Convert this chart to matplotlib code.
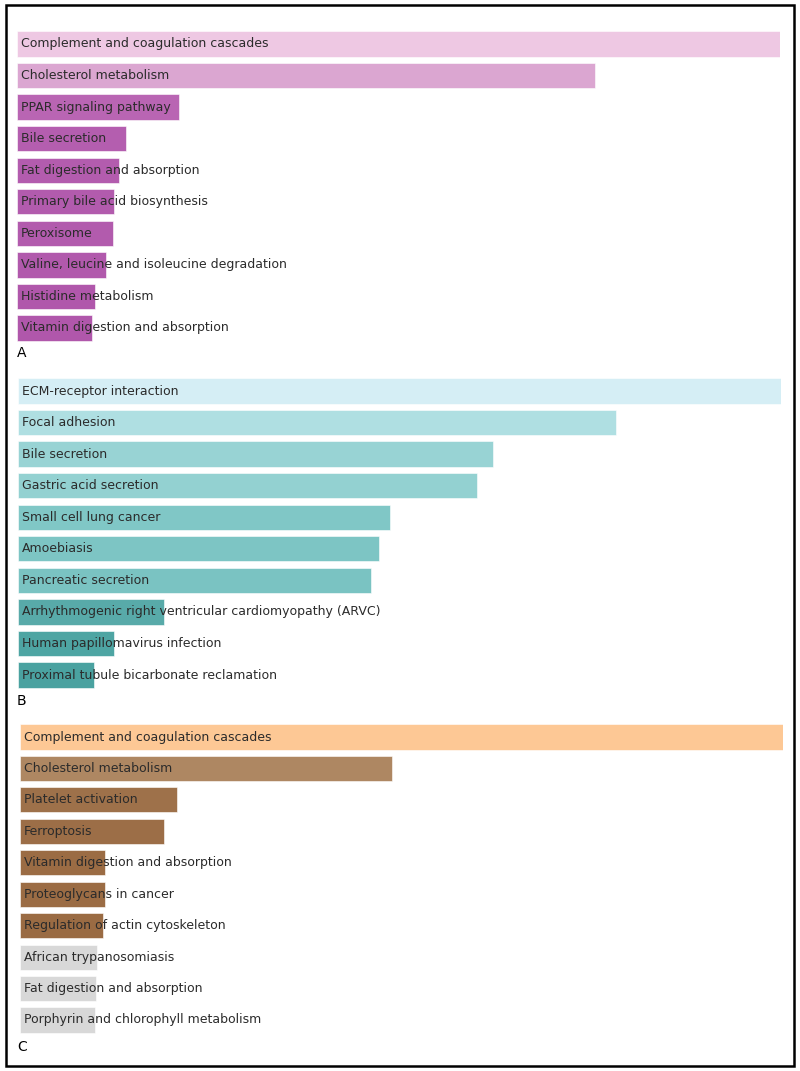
import matplotlib.pyplot as plt
from matplotlib.patches import Rectangle

# Relative enrichment scores (longest bar = 100)
terms_a = ['Complement and coagulation cascades', 'Cholesterol metabolism',
           'PPAR signaling pathway', 'Bile secretion', 'Fat digestion and absorption',
           'Primary bile acid biosynthesis', 'Peroxisome',
           'Valine, leucine and isoleucine degradation', 'Histidine metabolism',
           'Vitamin digestion and absorption']
scores_a = [100, 75.8, 21.2, 14.3, 13.4, 12.7, 12.6, 11.7, 10.2, 9.8]
colors_a = ['#eec8e3', '#dba6d1', '#b965b3', '#b45eaf', '#b35cae',
            '#b25bad', '#b25bad', '#b159ac', '#b057ab', '#b057ab']

terms_b = ['ECM-receptor interaction', 'Focal adhesion', 'Bile secretion',
           'Gastric acid secretion', 'Small cell lung cancer', 'Amoebiasis',
           'Pancreatic secretion',
           'Arrhythmogenic right ventricular cardiomyopathy (ARVC)',
           'Human papillomavirus infection',
           'Proximal tubule bicarbonate reclamation']
scores_b = [100, 78.4, 62.2, 60.1, 48.8, 47.3, 46.2, 19.1, 12.6, 9.9]
colors_b = ['#d5eef5', '#afdfe2', '#98d3d4', '#93d1d1', '#80c7c6', '#7dc5c4',
            '#7ac3c2', '#58aaa9', '#4ea5a3', '#4aa2a0']

terms_c = ['Complement and coagulation cascades', 'Cholesterol metabolism',
           'Platelet activation', 'Ferroptosis', 'Vitamin digestion and absorption',
           'Proteoglycans in cancer', 'Regulation of actin cytoskeleton',
           'African trypanosomiasis', 'Fat digestion and absorption',
           'Porphyrin and chlorophyll metabolism']
scores_c = [100, 48.8, 20.6, 18.9, 11.2, 11.2, 10.9, 10.1, 10.0, 9.8]
colors_c = ['#fdc895', '#ae8762', '#9e714a', '#9c6e47', '#9b6c44', '#9b6c44',
            '#9a6b43', '#d8d8d8', '#d8d8d8', '#d8d8d8']

W, H = 800, 1071
fig = plt.figure(figsize=(W / 100, H / 100), dpi=100)

# frame round the whole figure
fig.patches.append(Rectangle((6 / W, 1 - 1066 / H), 788 / W, 1061 / H,
                             transform=fig.transFigure, fill=False,
                             edgecolor='black', linewidth=1.8))

panels = [
    (terms_a, scores_a, colors_a, 17, 44, 328, 'A', 353),
    (terms_b, scores_b, colors_b, 18, 391, 675, 'B', 701),
    (terms_c, scores_c, colors_c, 20, 737, 1020, 'C', 1047),
]

for terms, scores, colors, x0, c_first, c_last, tag, tag_y in panels:
    step = (c_last - c_first) / (len(terms) - 1)
    top = c_first - step / 2
    bottom = c_last + step / 2
    ax = fig.add_axes([x0 / W, 1 - bottom / H, 763 / W, (bottom - top) / H])
    ypos = list(range(len(terms)))
    ax.barh(ypos, scores, height=0.8, color=colors, edgecolor='white',
            linewidth=0.4)
    for y, t in zip(ypos, terms):
        ax.text(0.55, y, t, va='center', ha='left', fontsize=9.0,
                color='#2b2b2b')
    ax.set_xlim(0, 100)
    ax.set_ylim(len(terms) - 0.5, -0.5)
    ax.axis('off')
    fig.text(17 / W, 1 - tag_y / H, tag, fontsize=10, va='center', ha='left')

plt.savefig('out.png', dpi=100)
